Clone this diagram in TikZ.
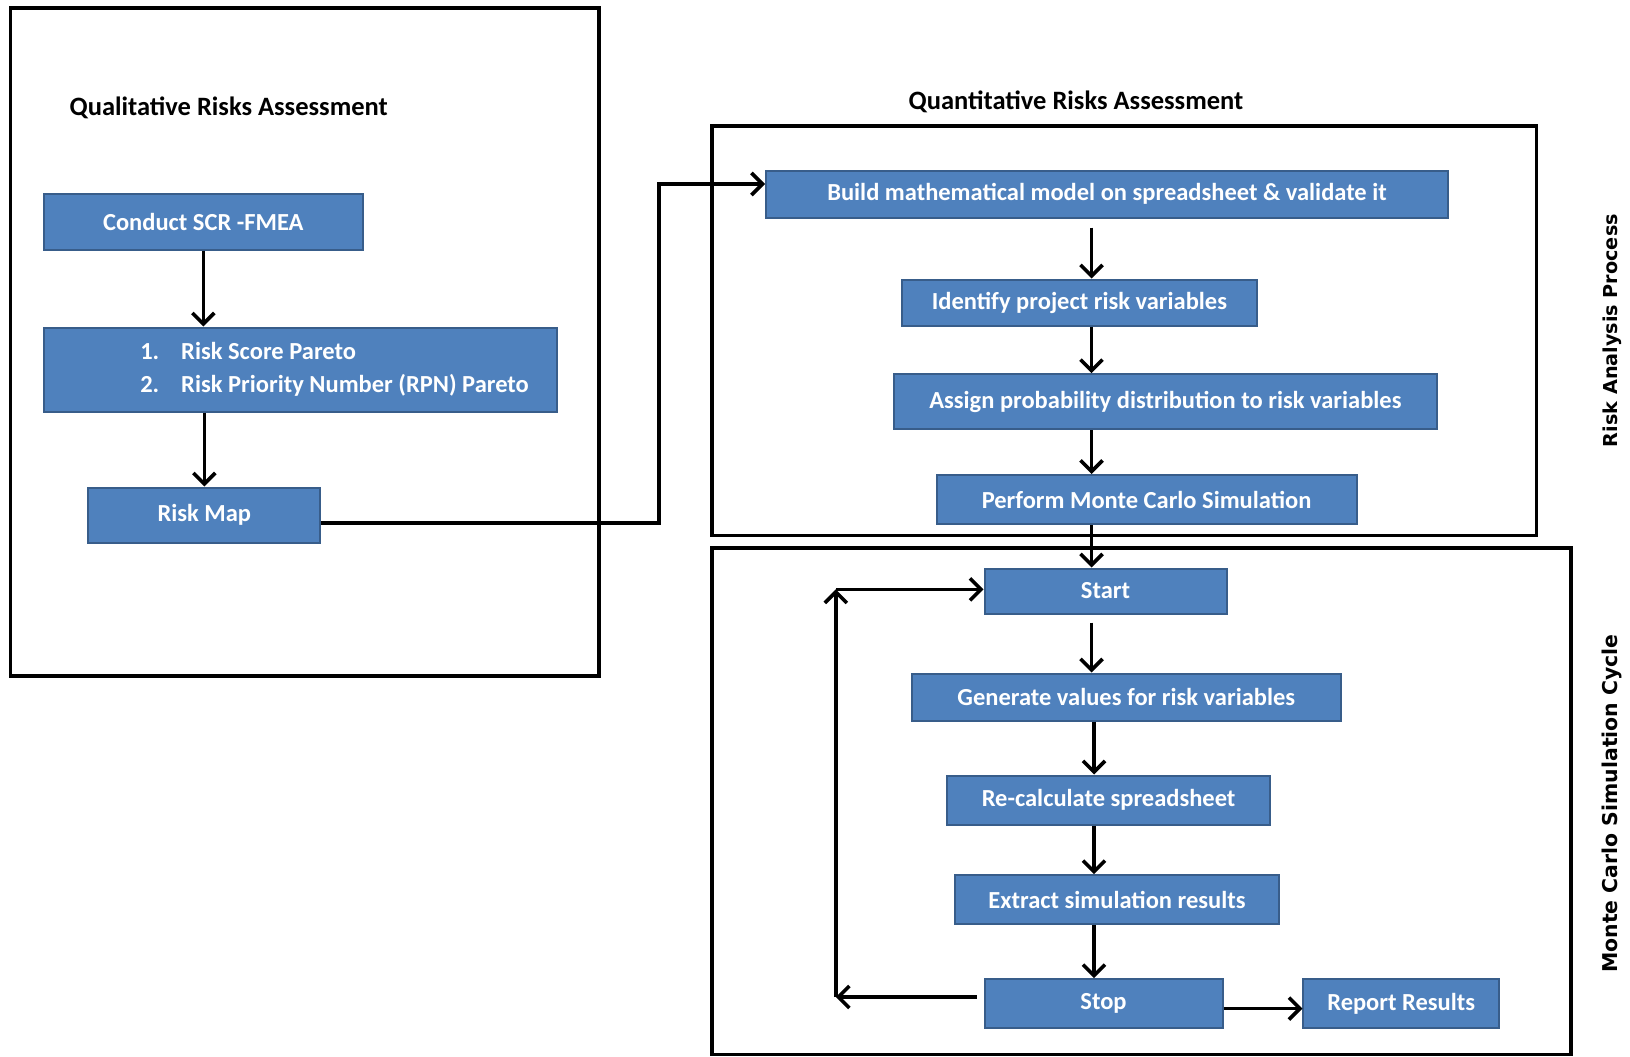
\documentclass[tikz,border=0pt]{standalone}
\usepackage{fontspec}
\setmainfont{Carlito}
\newfontfamily\labelfont{DejaVu Sans}
\usetikzlibrary{arrows.meta,calc}
\definecolor{boxfill}{HTML}{4F81BD}
\definecolor{boxedge}{HTML}{385D8A}
\tikzset{
  boxfont/.style={font=\bfseries\fontsize{24.5}{29}\selectfont},
  stepbox/.style={rectangle, fill=boxfill, draw=boxedge, line width=2pt,
    text=white, boxfont, inner sep=0pt},
  frame/.style={draw=black, line width=3.6pt},
  flow/.style={draw=black, line width=3.6pt, -{Straight Barb[length=11pt,width=22pt]}},
  heading/.style={font=\bfseries\fontsize{26.5}{30}\selectfont, text=black},
  sidelabel/.style={font={\labelfont\bfseries\fontsize{#1}{24}\selectfont}, rotate=90},
}
\begin{document}
\begin{tikzpicture}[x=1pt,y=-1pt]
\useasboundingbox (0,0) rectangle (1630,1057);
\fill[white] (0,0) rectangle (1630,1057);

% panels
\draw[frame] (10.4,8.3) rectangle (598.8,675.7);
\draw[frame] (712,125.8) rectangle (1536.4,535.3);
\draw[frame] (712,547.8) rectangle (1570.7,1054.5);

% headings
\node[heading] (qualtitle) at (228.7,108) {Qualitative Risks Assessment};
\node[heading] (quanttitle) at (1076,101.9) {Quantitative Risks Assessment};
\node[sidelabel=19.2] (raplabel) at (1612,330.6) {Risk Analysis Process};
\node[sidelabel=20.4] (mcslabel) at (1612,803.5) {Monte Carlo Simulation Cycle};

% qualitative steps
\node[stepbox, minimum width=319pt, minimum height=56pt] (conduct) at (203.3,221.5) {Conduct SCR -FMEA};
\node[stepbox, minimum width=513.5pt, minimum height=84pt] (pareto) at (300.5,369.5) {};
\node[text=white, boxfont, anchor=west, inner sep=0pt, align=left] (paretotext)
  at ($(pareto.west)+(97.3,0)$)
  {\makebox[41pt][l]{1.}Risk Score Pareto\\[4pt]\makebox[41pt][l]{2.}Risk Priority Number (RPN) Pareto};
\node[stepbox, minimum width=232pt, minimum height=55pt] (riskmap) at (204.3,515) {Risk Map};

% risk analysis process
\node[stepbox, minimum width=682pt, minimum height=47pt] (build) at (1107,194) {Build mathematical model on spreadsheet \& validate it};
\node[stepbox, minimum width=354.5pt, minimum height=46pt] (identify) at (1079.5,302.5) {Identify project risk variables};
\node[stepbox, minimum width=542.6pt, minimum height=55pt] (assign) at (1165.3,401.7) {Assign probability distribution to risk variables};
\node[stepbox, minimum width=420pt, minimum height=49pt] (perform) at (1146.6,499.5) {Perform Monte Carlo Simulation};

% simulation cycle
\node[stepbox, minimum width=242pt, minimum height=45pt] (start) at (1105.5,591) {Start};
\node[stepbox, minimum width=429.4pt, minimum height=47pt] (generate) at (1126.3,697) {Generate values for risk variables};
\node[stepbox, minimum width=323.3pt, minimum height=49pt] (recalc) at (1108.6,800) {Re-calculate spreadsheet};
\node[stepbox, minimum width=323.3pt, minimum height=49pt] (extract) at (1117,899.7) {Extract simulation results};
\node[stepbox, minimum width=238pt, minimum height=49pt] (stop) at (1103.5,1003.6) {Stop};
\node[stepbox, minimum width=195.5pt, minimum height=49pt] (report) at (1401.2,1003.6) {Report Results};

% connectors, qualitative
\draw[flow] (conduct.south) -- (conduct.south |- pareto.north);
\draw[flow] (riskmap.north |- pareto.south) -- (riskmap.north);
\coordinate (jog) at (659,184);
\draw[flow] ($(riskmap.east)+(0,8)$) -| (jog) -- (jog -| build.west);

% connectors, risk analysis process
\coordinate (spine) at (1091.5,0);
\draw[flow] ($(spine |- build.south)+(0,9)$) -- (spine |- identify.north);
\draw[flow] (spine |- identify.south) -- (spine |- assign.north);
\draw[flow] (spine |- assign.south) -- (spine |- perform.north);
\draw[flow] (spine |- perform.south) -- (spine |- start.north);

% connectors, simulation cycle
\coordinate (spinetwo) at (1094,0);
\draw[flow] ($(spine |- start.south)+(0,8)$) -- (spine |- generate.north);
\draw[flow] (spinetwo |- generate.south) -- (spinetwo |- recalc.north);
\draw[flow] (spinetwo |- recalc.south) -- (spinetwo |- extract.north);
\draw[flow] (spinetwo |- extract.south) -- (spinetwo |- stop.north);
\coordinate (loopbottom) at (835.8,997);
\coordinate (looptop) at (835.8,589.4);
\draw[flow] ($(stop.west |- loopbottom)+(-7,0)$) -- (loopbottom);
\draw[flow] (loopbottom) -- (looptop);
\draw[flow] (looptop) -- (looptop -| start.west);
\draw[flow] ($(stop.east)+(0,5)$) -- ($(report.west)+(0,5)$);
\end{tikzpicture}
\end{document}
